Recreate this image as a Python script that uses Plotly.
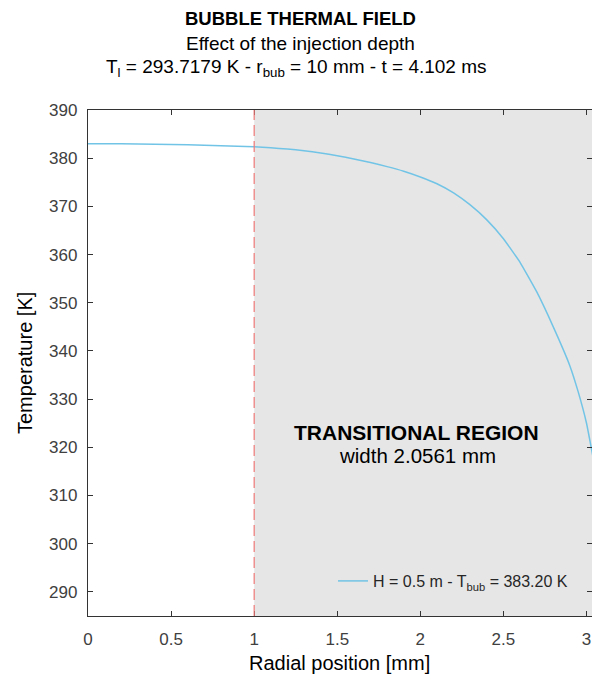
import plotly.graph_objects as go

# ---- data ----
radial_mm = [0.0, 0.2, 0.4, 0.6, 0.8, 1.0, 1.1, 1.2, 1.3, 1.4, 1.5, 1.6, 1.7, 1.8, 1.9,
             2.0, 2.1, 2.2, 2.3, 2.4, 2.5, 2.6, 2.7, 2.8, 2.9, 2.95, 3.0, 3.05]
temperature_K = [383.0, 383.0, 382.9, 382.8, 382.6, 382.35, 382.15, 381.9, 381.55, 381.1, 380.5,
                 379.85, 379.1, 378.25, 377.3, 376.1, 374.7, 372.8, 370.3, 367.2, 363.3, 358.4,
                 352.3, 345.0, 336.9, 331.5, 325.0, 316.0]
series_name = "H = 0.5 m - T<sub>bub</sub> = 383.20 K"
region_start = 1.0
region_width = 2.0561
x_ticks = [0, 0.5, 1, 1.5, 2, 2.5, 3]
x_tick_labels = ["0", "0.5", "1", "1.5", "2", "2.5", "3"]
y_ticks = [290, 300, 310, 320, 330, 340, 350, 360, 370, 380, 390]

W, H = 592, 677
L, R, T, B = 88, 0, 110, 61
pw, ph = W - L - R, H - T - B

def px(xp):
    return (xp - L) / pw

def py(yp):
    return (H - B - yp) / ph

FONT = "Liberation Sans, Arial, sans-serif"

fig = go.Figure()
fig.add_trace(go.Scatter(
    x=radial_mm, y=temperature_K, mode="lines", name=series_name,
    line=dict(color="#72c4e6", width=1.5, shape="spline", smoothing=0.3),
))

fig.add_shape(type="rect", xref="x", yref="paper",
              x0=region_start, x1=region_start + region_width, y0=0, y1=1,
              fillcolor="#e6e6e6", line=dict(width=0), layer="below")
fig.add_shape(type="line", xref="x", yref="paper",
              x0=region_start, x1=region_start, y0=0, y1=1,
              line=dict(color="#f07878", width=1.2, dash="11px,5px"), layer="above")

axis_common = dict(
    showline=True, linecolor="#333333", linewidth=1.3, mirror="ticks",
    ticks="inside", ticklen=5, tickcolor="#333333", tickwidth=1,
    showgrid=False, zeroline=False,
    tickfont=dict(family=FONT, size=17, color="#404040"),
)

fig.update_xaxes(range=[0, 3.033], tickvals=x_ticks, ticktext=x_tick_labels,
                 ticklabelstandoff=7, **axis_common)
fig.update_yaxes(range=[285, 390], tickvals=y_ticks,
                 ticklabelstandoff=6, **axis_common)

ann = []
ann.append(dict(text="<b>BUBBLE THERMAL FIELD</b>", x=px(300), y=py(19), font=dict(size=18.5)))
ann.append(dict(text="Effect of the injection depth", x=px(300), y=py(43), font=dict(size=19)))
ann.append(dict(text="T<sub>l</sub> = 293.7179 K - r<sub>bub</sub> = 10 mm - t = 4.102 ms",
                x=px(296), y=py(68), font=dict(size=19)))
ann.append(dict(text="Radial position [mm]", x=px(339), y=py(663), font=dict(size=20)))
ann.append(dict(text="Temperature [K]", x=px(25), y=py(363), textangle=-90, font=dict(size=20)))
ann.append(dict(text="<b>TRANSITIONAL REGION</b>", x=px(416), y=py(432), font=dict(size=21)))
ann.append(dict(text="width 2.0561 mm", x=px(417), y=py(455), font=dict(size=20.5)))
for a in ann:
    a.update(xref="paper", yref="paper", showarrow=False, xanchor="center", yanchor="middle")
    a["font"].update(family=FONT, color="#000000")

fig.update_layout(
    width=W, height=H,
    margin=dict(l=L, r=R, t=T, b=B, pad=0),
    paper_bgcolor="white", plot_bgcolor="white",
    annotations=ann,
    showlegend=True,
    legend=dict(x=px(333), y=py(581), xanchor="left", yanchor="middle",
                bgcolor="rgba(0,0,0,0)", borderwidth=0,
                font=dict(family=FONT, size=16, color="#262626")),
)

fig.write_html("out.html")
